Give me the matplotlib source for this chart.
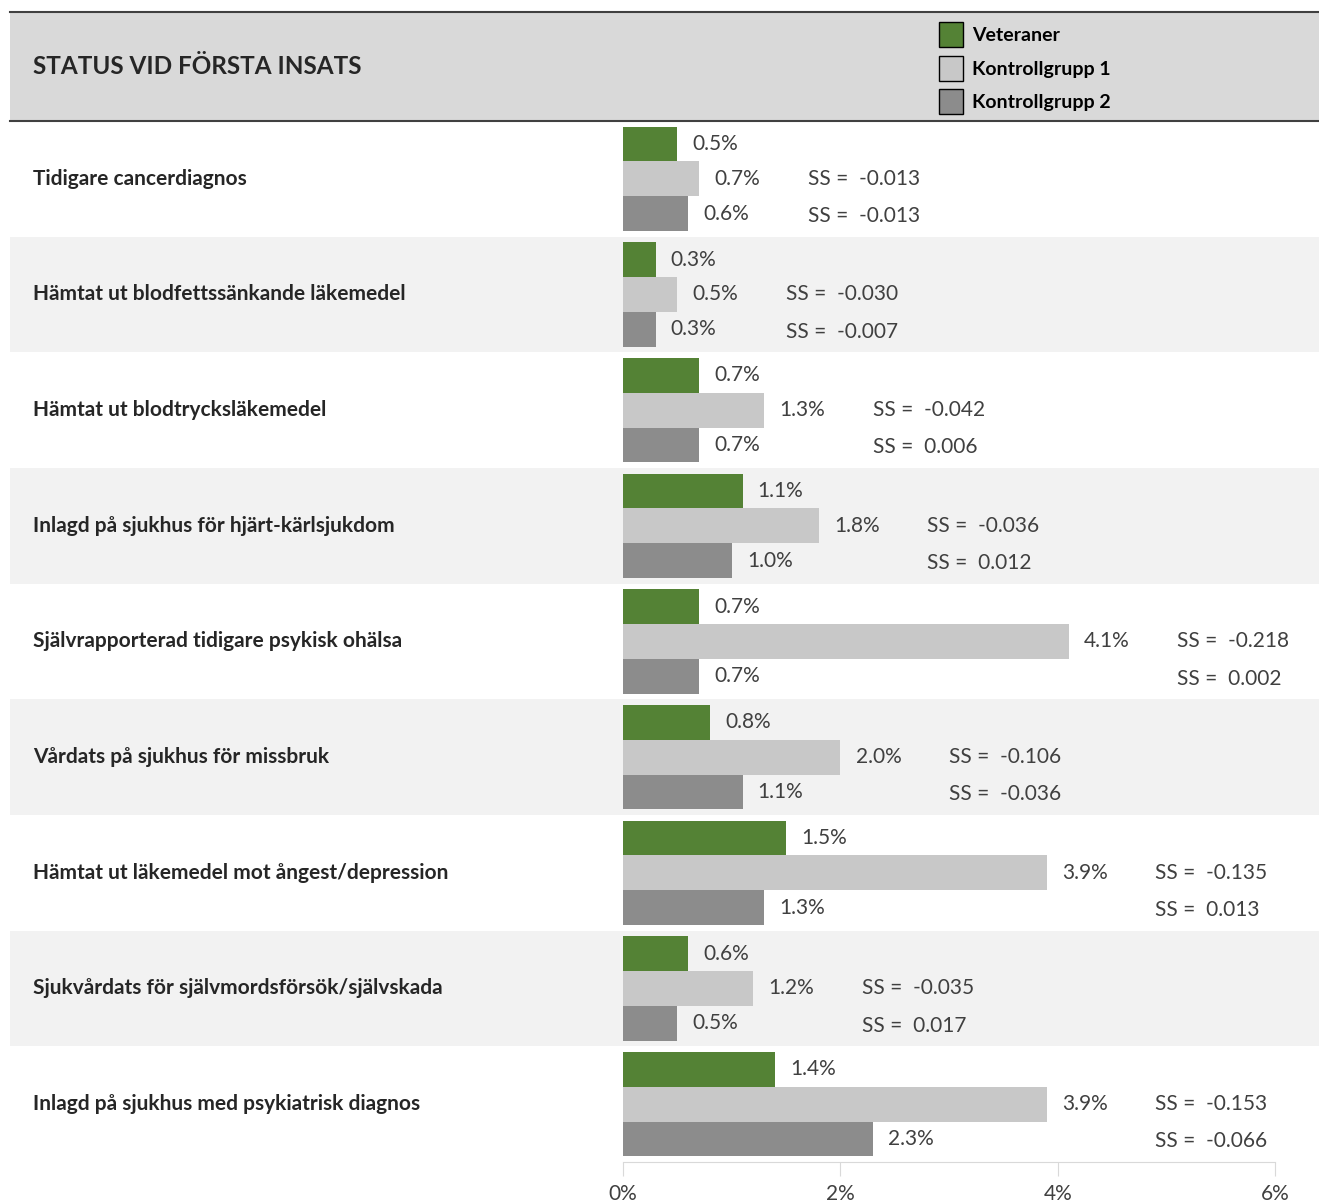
import numpy as np
import matplotlib
matplotlib.use("Agg")
import matplotlib.pyplot as plt
from matplotlib.patches import Rectangle, Patch
from matplotlib.lines import Line2D
from matplotlib.ticker import FuncFormatter

plt.rcParams['font.family'] = ['Lato', 'DejaVu Sans']

# data
categories = [
    "Tidigare cancerdiagnos",
    "Hämtat ut blodfettssänkande läkemedel",
    "Hämtat ut blodtrycksläkemedel",
    "Inlagd på sjukhus för hjärt-kärlsjukdom",
    "Självrapporterad tidigare psykisk ohälsa",
    "Vårdats på sjukhus för missbruk",
    "Hämtat ut läkemedel mot ångest/depression",
    "Sjukvårdats för självmordsförsök/självskada",
    "Inlagd på sjukhus med psykiatrisk diagnos",
]
veteraner = [0.5, 0.3, 0.7, 1.1, 0.7, 0.8, 1.5, 0.6, 1.4]
kontroll1 = [0.7, 0.5, 1.3, 1.8, 4.1, 2.0, 3.9, 1.2, 3.9]
kontroll2 = [0.6, 0.3, 0.7, 1.0, 0.7, 1.1, 1.3, 0.5, 2.3]
ss1 = [-0.013, -0.030, -0.042, -0.036, -0.218, -0.106, -0.135, -0.035, -0.153]
ss2 = [-0.013, -0.007, 0.006, 0.012, 0.002, -0.036, 0.013, 0.017, -0.066]
series_names = ["Veteraner", "Kontrollgrupp 1", "Kontrollgrupp 2"]
xticks = [0, 2, 4, 6]

green = "#548235"
light = "#c8c8c8"
dark = "#8c8c8c"
txt = "#262626"
num = "#404040"
fs = 15

W, H = 1319, 1203
def fx(px):
    return px / W
def fy(py):
    return 1 - py / H

fig = plt.figure(figsize=(W / 100, H / 100), dpi=100)
n = len(categories)

# background bands + category names
bg = fig.add_axes([fx(10), fy(1162), fx(1319) - fx(10), fy(121) - fy(1162)])
bg.set_xlim(0, 1)
bg.set_ylim(n - 0.5, -0.5)
bg.axis('off')
for i in range(n):
    if i % 2 == 1:
        bg.axhspan(i - 0.5, i + 0.5, color="#f2f2f2", lw=0)
    bg.text((33 - 10) / 1309, i, categories[i], va='center', ha='left',
            fontsize=fs, fontweight='bold', color=txt)

# bars
ax = fig.add_axes([fx(623), fy(1162), fx(1275) - fx(623), fy(121) - fy(1162)])
ax.patch.set_alpha(0)
y = np.arange(n)
h = 0.3
ax.barh(y - h, veteraner, height=h, color=green, lw=0)
ax.barh(y, kontroll1, height=h, color=light, lw=0)
ax.barh(y + h, kontroll2, height=h, color=dark, lw=0)
ax.set_xlim(0, 6)
ax.set_ylim(n - 0.5, -0.5)

for i in range(n):
    for off, v in zip([-h, 0, h], [veteraner[i], kontroll1[i], kontroll2[i]]):
        ax.text(v + 0.14, i + off, f"{v:.1f}%", va='center', ha='left',
                fontsize=fs, color=num)
    xs = max(veteraner[i], kontroll1[i], kontroll2[i]) + 1.0
    ax.text(xs, i, f"SS =  {ss1[i]:.3f}", va='center', ha='left',
            fontsize=fs, color=num)
    ax.text(xs, i + h + 0.02, f"SS =  {ss2[i]:.3f}", va='center', ha='left',
            fontsize=fs, color=num)

ax.set_yticks([])
ax.set_xticks(xticks)
ax.xaxis.set_major_formatter(FuncFormatter(lambda v, p: f"{v:.0f}%"))
for s in ['top', 'right', 'left']:
    ax.spines[s].set_visible(False)
ax.spines['bottom'].set_color("#d9d9d9")
ax.tick_params(axis='x', length=10, color="#d9d9d9", labelsize=fs,
               labelcolor=num, pad=6)

# header
fig.patches.append(Rectangle((fx(10), fy(121)), fx(1319) - fx(10), fy(12) - fy(121),
                             transform=fig.transFigure, facecolor="#d9d9d9", lw=0))
for yy in [12, 121]:
    fig.lines.append(Line2D([fx(10), fx(1319)], [fy(yy), fy(yy)],
                            transform=fig.transFigure, color="#404040", lw=1.5))
fig.text(fx(33), fy(67), "STATUS VID FÖRSTA INSATS", va='center', ha='left',
         fontsize=17.5, fontweight='bold', color=txt)

handles = [Patch(facecolor=c, edgecolor='black', lw=1) for c in [green, light, dark]]
fig.legend(handles, series_names, loc='upper left', bbox_to_anchor=(fx(939), fy(22)),
           frameon=False, prop={'weight': 'bold', 'size': 14},
           handlelength=1.25, handleheight=1.6, labelspacing=0.45,
           handletextpad=0.45, borderaxespad=0, borderpad=0)

fig.savefig("out.png", dpi=100)
